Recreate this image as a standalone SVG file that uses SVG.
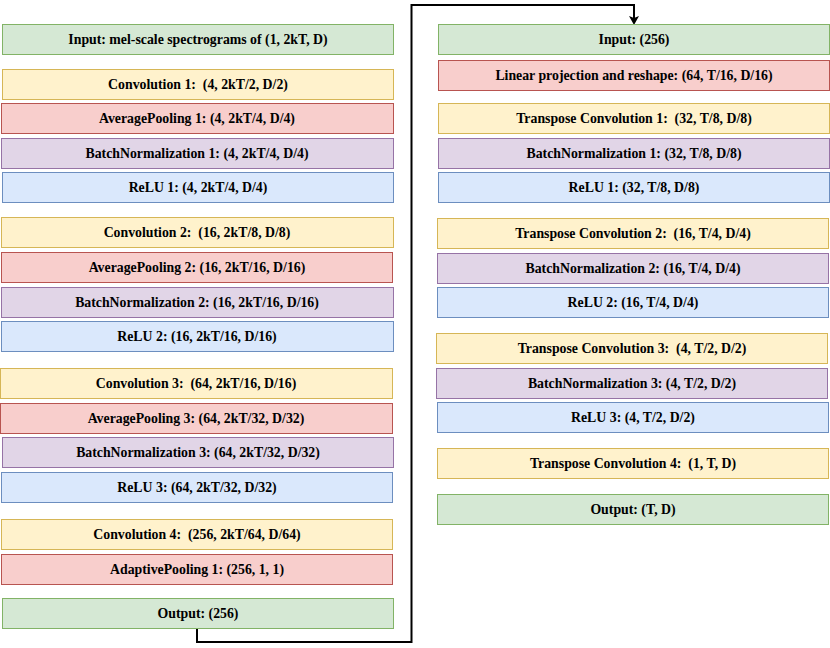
<svg xmlns="http://www.w3.org/2000/svg" width="830" height="648" viewBox="0 0 830 648">
<style>
rect{stroke-width:1}
.g{fill:#d5e8d4;stroke:#82b366}
.y{fill:#fff2cc;stroke:#d6b656}
.r{fill:#f8cecc;stroke:#b85450}
.p{fill:#e1d5e7;stroke:#9673a6}
.b{fill:#dae8fc;stroke:#6c8ebf}
text{font-family:"Liberation Serif","Times New Roman",serif;font-weight:bold;font-size:13.8px;fill:#000;text-anchor:middle;white-space:pre}
.conn{fill:none;stroke:#000;stroke-width:2}
</style>
<rect x="0" y="0" width="830" height="648" fill="#fff"/>
<g id="connectors">
<path class="conn" d="M197,629 V642 H411.5 V5 H634 V18" />
<path d="M629,16 L634,25 L639,16 L634,18 Z" fill="#000"/>
</g>
<g id="enc-input"><rect class="g" x="2.5" y="24.5" width="391" height="30"/><text x="198" y="44" xml:space="preserve">Input: mel-scale spectrograms of (1, 2kT, D)</text></g>
<g id="enc-conv1"><rect class="y" x="2.5" y="69.5" width="391" height="30"/><text x="198" y="89" xml:space="preserve">Convolution 1:  (4, 2kT/2, D/2)</text></g>
<g id="enc-pool1"><rect class="r" x="1.5" y="103.5" width="392" height="30"/><text x="197" y="123" xml:space="preserve">AveragePooling 1: (4, 2kT/4, D/4)</text></g>
<g id="enc-bn1"><rect class="p" x="1.5" y="138.5" width="392" height="30"/><text x="197" y="158" xml:space="preserve">BatchNormalization 1: (4, 2kT/4, D/4)</text></g>
<g id="enc-relu1"><rect class="b" x="2.5" y="172.5" width="391" height="30"/><text x="198" y="192" xml:space="preserve">ReLU 1: (4, 2kT/4, D/4)</text></g>
<g id="enc-conv2"><rect class="y" x="1.5" y="217.5" width="392" height="30"/><text x="197" y="237" xml:space="preserve">Convolution 2:  (16, 2kT/8, D/8)</text></g>
<g id="enc-pool2"><rect class="r" x="1.5" y="252.5" width="391" height="30"/><text x="197" y="272" xml:space="preserve">AveragePooling 2: (16, 2kT/16, D/16)</text></g>
<g id="enc-bn2"><rect class="p" x="1.5" y="287.5" width="392" height="30"/><text x="197" y="307" xml:space="preserve">BatchNormalization 2: (16, 2kT/16, D/16)</text></g>
<g id="enc-relu2"><rect class="b" x="1.5" y="321.5" width="392" height="30"/><text x="197" y="341" xml:space="preserve">ReLU 2: (16, 2kT/16, D/16)</text></g>
<g id="enc-conv3"><rect class="y" x="0.5" y="368.5" width="392" height="30"/><text x="196" y="388" xml:space="preserve">Convolution 3:  (64, 2kT/16, D/16)</text></g>
<g id="enc-pool3"><rect class="r" x="0.5" y="403.5" width="392" height="30"/><text x="196" y="423" xml:space="preserve">AveragePooling 3: (64, 2kT/32, D/32)</text></g>
<g id="enc-bn3"><rect class="p" x="2.5" y="437.5" width="391" height="30"/><text x="198" y="457" xml:space="preserve">BatchNormalization 3: (64, 2kT/32, D/32)</text></g>
<g id="enc-relu3"><rect class="b" x="1.5" y="472.5" width="391" height="30"/><text x="197" y="492" xml:space="preserve">ReLU 3: (64, 2kT/32, D/32)</text></g>
<g id="enc-conv4"><rect class="y" x="1.5" y="519.5" width="391" height="30"/><text x="197" y="539" xml:space="preserve">Convolution 4:  (256, 2kT/64, D/64)</text></g>
<g id="enc-adapool"><rect class="r" x="1.5" y="554.5" width="391" height="30"/><text x="197" y="574" xml:space="preserve">AdaptivePooling 1: (256, 1, 1)</text></g>
<g id="enc-output"><rect class="g" x="2.5" y="598.5" width="391" height="30"/><text x="198" y="618" xml:space="preserve">Output: (256)</text></g>

<g id="dec-input"><rect class="g" x="438.5" y="24.5" width="391" height="30"/><text x="634" y="44" xml:space="preserve">Input: (256)</text></g>
<g id="dec-linear"><rect class="r" x="438.5" y="60.5" width="391" height="30"/><text x="634" y="80" xml:space="preserve">Linear projection and reshape: (64, T/16, D/16)</text></g>
<g id="dec-tconv1"><rect class="y" x="438.5" y="103.5" width="391" height="30"/><text x="634" y="123" xml:space="preserve">Transpose Convolution 1:  (32, T/8, D/8)</text></g>
<g id="dec-bn1"><rect class="p" x="438.5" y="138.5" width="391" height="30"/><text x="634" y="158" xml:space="preserve">BatchNormalization 1: (32, T/8, D/8)</text></g>
<g id="dec-relu1"><rect class="b" x="438.5" y="172.5" width="391" height="30"/><text x="634" y="192" xml:space="preserve">ReLU 1: (32, T/8, D/8)</text></g>
<g id="dec-tconv2"><rect class="y" x="437.5" y="218.5" width="391" height="30"/><text x="633" y="238" xml:space="preserve">Transpose Convolution 2:  (16, T/4, D/4)</text></g>
<g id="dec-bn2"><rect class="p" x="437.5" y="253.5" width="391" height="30"/><text x="633" y="273" xml:space="preserve">BatchNormalization 2: (16, T/4, D/4)</text></g>
<g id="dec-relu2"><rect class="b" x="437.5" y="287.5" width="391" height="30"/><text x="633" y="307" xml:space="preserve">ReLU 2: (16, T/4, D/4)</text></g>
<g id="dec-tconv3"><rect class="y" x="436.5" y="333.5" width="391" height="30"/><text x="632" y="353" xml:space="preserve">Transpose Convolution 3:  (4, T/2, D/2)</text></g>
<g id="dec-bn3"><rect class="p" x="436.5" y="368.5" width="391" height="30"/><text x="632" y="388" xml:space="preserve">BatchNormalization 3: (4, T/2, D/2)</text></g>
<g id="dec-relu3"><rect class="b" x="437.5" y="402.5" width="391" height="30"/><text x="633" y="422" xml:space="preserve">ReLU 3: (4, T/2, D/2)</text></g>
<g id="dec-tconv4"><rect class="y" x="437.5" y="448.5" width="391" height="30"/><text x="633" y="468" xml:space="preserve">Transpose Convolution 4:  (1, T, D)</text></g>
<g id="dec-output"><rect class="g" x="437.5" y="494.5" width="391" height="30"/><text x="633" y="514" xml:space="preserve">Output: (T, D)</text></g>
</svg>
